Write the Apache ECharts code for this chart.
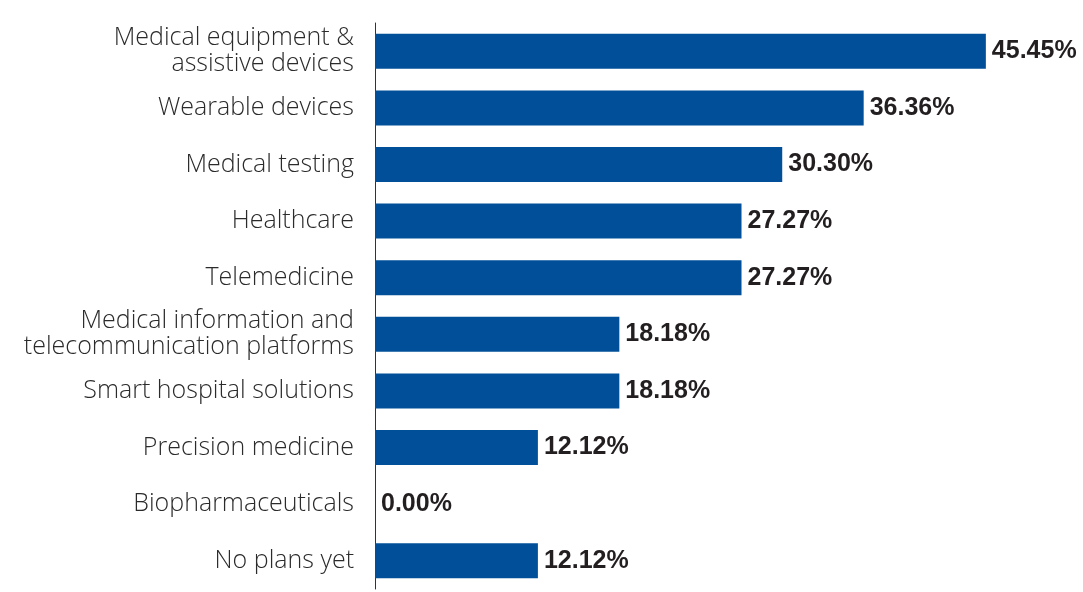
<!DOCTYPE html>
<html>
<head>
<meta charset="utf-8">
<script src="https://cdn.jsdelivr.net/npm/echarts@6/dist/echarts.min.js"></script>
<style>
  html, body { margin: 0; padding: 0; background: #ffffff; }
  #chart { width: 1083px; height: 592px; }
</style>
</head>
<body>
<div id="chart"></div>
<script>
// Planned investment areas, share of respondents (%)
const categories = [
  'Medical equipment &\nassistive devices',
  'Wearable devices',
  'Medical testing',
  'Healthcare',
  'Telemedicine',
  'Medical information and\ntelecommunication platforms',
  'Smart hospital solutions',
  'Precision medicine',
  'Biopharmaceuticals',
  'No plans yet'
];
const shares = [45.45, 36.36, 30.30, 27.27, 27.27, 18.18, 18.18, 12.12, 0.00, 12.12];

const chart = echarts.init(document.getElementById('chart'), null, { renderer: 'canvas' });

chart.setOption({
  animation: false,
  backgroundColor: '#ffffff',
  grid: { left: 375, right: 36, top: 23, bottom: 3, containLabel: false },
  xAxis: {
    type: 'value',
    min: 0,
    max: 50,
    show: false
  },
  yAxis: {
    type: 'category',
    data: categories,
    inverse: true,
    axisLine: { show: true, lineStyle: { color: '#333333', width: 1 } },
    axisTick: { show: false },
    axisLabel: {
      margin: 21,
      color: '#2b2b2b',
      fontFamily: 'Open Sans',
      fontWeight: 300,
      fontSize: 25,
      lineHeight: 26,
      align: 'right'
    }
  },
  series: [{
    type: 'bar',
    data: shares,
    barWidth: 35,
    itemStyle: { color: '#004f98' },
    label: {
      show: true,
      position: 'right',
      distance: 6,
      formatter: p => p.value.toFixed(2) + '%',
      color: '#231f20',
      fontFamily: 'Liberation Sans',
      fontWeight: 'bold',
      fontSize: 25
    }
  }]
});
</script>
</body>
</html>
